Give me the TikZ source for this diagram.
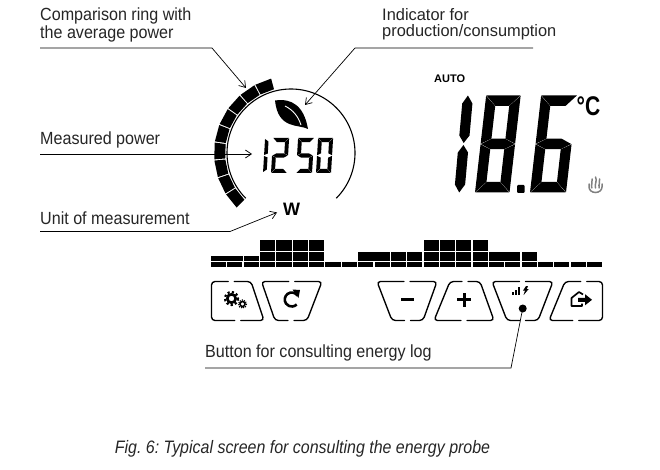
\documentclass[tikz,border=0pt]{standalone}
\usepackage{fontspec}
\setmainfont{Liberation Sans}
\usetikzlibrary{arrows.meta}
\tikzset{
  lbl/.style={inner sep=0pt,anchor=base west,font=\fontsize{17.6}{18}\selectfont\frenchspacing,text=black!85,xscale=.915},
  lead/.style={draw=black,line width=.7pt},
  arr/.style={lead,-{Straight Barb[length=6pt,width=8pt,line width=.7pt]}},
  btn/.style={draw=black,line width=1.35pt,rounded corners=3.5pt,line cap=round},
  seg/.style={fill=black,draw=none}
}
% segments in a local frame: #1 W, #2 H, #3 t
\newcommand{\sA}[3]{\fill[seg] (.3,#2) -- (#1-.3,#2) -- (#1-#3,#2-#3) -- (#3,#2-#3) -- cycle;}
\newcommand{\sD}[3]{\fill[seg] (.3,0) -- (#1-.3,0) -- (#1-#3,#3) -- (#3,#3) -- cycle;}
\newcommand{\sF}[3]{\fill[seg] (0,#2-.3) -- (#3-.25,#2-#3-.1) -- (#3-.25,#2/2+#3/2+.15) -- (0,#2/2+.3) -- cycle;}
\newcommand{\sB}[3]{\fill[seg] (#1,#2-.3) -- (#1-#3+.25,#2-#3-.1) -- (#1-#3+.25,#2/2+#3/2+.15) -- (#1,#2/2+.3) -- cycle;}
\newcommand{\sE}[3]{\fill[seg] (0,.3) -- (#3-.25,#3+.1) -- (#3-.25,#2/2-#3/2-.15) -- (0,#2/2-.3) -- cycle;}
\newcommand{\sC}[3]{\fill[seg] (#1,.3) -- (#1-#3+.25,#3+.1) -- (#1-#3+.25,#2/2-#3/2-.15) -- (#1,#2/2-.3) -- cycle;}
\newcommand{\sG}[3]{\fill[seg] (.4,#2/2) -- (#3,#2/2+#3/2) -- (#1-#3,#2/2+#3/2) -- (#1-.4,#2/2) -- (#1-#3,#2/2-#3/2) -- (#3,#2/2-#3/2) -- cycle;}
\newcommand{\dframe}[3]{\begin{scope}[shift={(#1,#2)},x=1pt,y=1pt,xslant=#3]}
\begin{document}
\begin{tikzpicture}[x=1pt,y=-1pt]
\useasboundingbox (0,0) rectangle (660,470);
\fill[white] (0,0) rectangle (660,470);
\coordinate (c) at (291,153);

% ring of 9 segments
\foreach \i in {0,...,8}{
  \pgfmathsetmacro{\a}{-104.5-13.45*\i-.45}
  \pgfmathsetmacro{\b}{-104.5-13.45*(\i+1)+.45}
  \fill[black] ([shift={(c)}]\a:66) -- ([shift={(c)}]\a:77) -- ([shift={(c)}]\b:77) -- ([shift={(c)}]\b:66) -- cycle;
}
% inner circle
\draw[line width=1.1pt] ([shift={(c)}]45:64) arc[start angle=45,end angle=-225,radius=64];

% leaf
\fill[black] (275,100.5) .. controls (292,98) and (304,106) .. (308,129)
  .. controls (299,124) and (278,130) .. (275,100.5) -- cycle;
\draw[white,line width=.9pt] (285,106) .. controls (293,110) and (298,116) .. (301,125);

% small digits
\dframe{262}{173}{.06}
 \fill[seg] (1,1) -- (4.6,3.5) -- (4.6,15.5) -- (1,17) -- cycle;
 \fill[seg] (1,18) -- (4.6,19.5) -- (4.6,31.5) -- (1,34) -- cycle;
\end{scope}
\dframe{271}{173}{.06}\sA{16}{35}{4.1}\sB{16}{35}{4.1}\sG{16}{35}{4.1}\sE{16}{35}{4.1}\sD{16}{35}{4.1}\end{scope}
\dframe{296}{173}{.06}\sA{16}{35}{4.1}\sF{16}{35}{4.1}\sG{16}{35}{4.1}\sC{16}{35}{4.1}\sD{16}{35}{4.1}\end{scope}
\dframe{316}{173}{.06}\sA{15}{35}{4.1}\sB{15}{35}{4.1}\sF{15}{35}{4.1}\sE{15}{35}{4.1}\sC{15}{35}{4.1}\sD{15}{35}{4.1}\end{scope}

\node[inner sep=0pt,font=\fontsize{18}{18}\selectfont\bfseries] (unit) at (291.5,209) {W};

% big digits
\node[inner sep=0pt,anchor=base west,font=\fontsize{11}{12}\selectfont\bfseries] (auto) at (434,83) {AUTO};
\dframe{454}{192.5}{.09}
 \fill[seg] (5.2,0) -- (.2,8) -- (.2,40) -- (5.2,47.5) -- (10.4,40) -- (10.4,8) -- cycle;
 \fill[seg] (5.2,49.5) -- (.2,57) -- (.2,89) -- (5.2,97) -- (10.4,89) -- (10.4,57) -- cycle;
\end{scope}
\dframe{475}{192.5}{.115}\sA{34.5}{97}{10.5}\sB{34.5}{97}{10.5}\sF{34.5}{97}{10.5}\sG{34.5}{97}{10.5}\sE{34.5}{97}{10.5}\sC{34.5}{97}{10.5}\sD{34.5}{97}{10.5}\end{scope}
\fill[black,rounded corners=1pt] (517,185) rectangle (524.5,193);
\dframe{530}{192.5}{.115}\sA{36}{97}{10.5}\sF{36}{97}{10.5}\sG{36}{97}{10.5}\sE{36}{97}{10.5}\sC{36}{97}{10.5}\sD{36}{97}{10.5}\end{scope}
\node[inner sep=0pt,anchor=base west,font=\fontsize{27}{27}\selectfont\bfseries,xscale=.78] (deg) at (576.5,115.5) {°C};

% flame icon
\begin{scope}[draw=black!50,line width=1.5pt,line cap=round]
 \draw (589,184) -- (589,187) arc[start angle=180,end angle=0,x radius=6.5,y radius=5.5] -- (602,184);
 \draw (591.8,188) .. controls (590.5,184) and (593.5,182) .. (592,179);
 \draw (595.5,188) .. controls (594.5,183) and (597.5,181) .. (595.5,177);
 \draw (599.2,188) .. controls (598,184) and (601,182) .. (599.5,179);
\end{scope}

% bar chart
\foreach \lv [count=\n from 0] in {1,1,1,3,3,3,3,0,0,2,2,2,2,3,3,3,3,2,2,2,0,0,0,0}{
  \pgfmathsetmacro{\xa}{211+16.35*\n}
  \pgfmathsetmacro{\xb}{\xa+15.1}
  \fill (\xa,262.4) rectangle (\xb,267);
  \ifnum\lv=1 \fill (\xa,256) rectangle (\xb,261.2); \fi
  \ifnum\lv>1 \fill (\xa,251.7) rectangle (\xb,261.2); \fi
  \ifnum\lv>2 \fill (\xa,240) rectangle (\xb,250.5); \fi
}
\fill (226,256) rectangle (243,261.2);
\fill (373,251.7) rectangle (375,261.2);
\fill (503,251.7) rectangle (506,261.2);

% buttons
\newcommand{\btnshape}[4]{%
 \pgfmathsetmacro{\mt}{(#1+#2)/2}\pgfmathsetmacro{\mb}{(#3+#4)/2}
 \draw[btn] (\mt-3,281.5) -- (#1,281.5) -- (#4,320.5) -- (\mb-3,320.5);
 \draw[btn] (\mt+3,281.5) -- (#2,281.5) -- (#3,320.5) -- (\mb+3,320.5);
}
\btnshape{211.5}{251}{264}{211.5}
\btnshape{261.5}{322}{307}{275}
\btnshape{377}{437}{423}{392}
\btnshape{450}{480}{494}{434}
\btnshape{492}{553}{538}{507}
\btnshape{565}{602.5}{602.5}{549}

% gears
\draw[line width=2.6pt] (231.5,298.5) circle[radius=4.2];
\draw[line width=2.2pt,dash pattern=on 2.2pt off 2.2pt] (231.5,298.5) circle[radius=6.5];
\draw[line width=1.6pt] (242.5,304) circle[radius=2.5];
\draw[line width=1.2pt,dash pattern=on 1.1pt off 1.1pt] (242.5,304) circle[radius=4];
% refresh
\draw[line width=2.6pt] (297.5,295.5) arc[start angle=-35,end angle=-315,radius=7];
\fill (292.5,289.5) -- (300,290) -- (298.5,298) -- cycle;
% minus, plus
\fill (400.5,298) rectangle (413.5,301);
\fill (457,298) rectangle (471,301);
\fill (462.5,292.5) rectangle (465.5,306.5);
% energy icon
\fill (512,292) rectangle (514.2,295.2);
\fill (515,290) rectangle (517.2,295.2);
\fill (518,287) rectangle (520.4,295.2);
\fill (523.5,295.2) -- (525,290.5) -- (523,290.5) -- (526,286) -- (528,286) -- (526.8,289) -- (528.7,289) -- cycle;
\node[circle,fill=black,inner sep=0pt,minimum size=8pt] (dot) at (522.7,308.5) {};
% exit
\draw[line width=1.7pt,line join=round] (583,294.5) -- (579,292) -- (571.5,298) -- (571.5,306) -- (582,306) -- (582,303.5);
\fill (578,297.8) -- (585,297.8) -- (585,294.2) -- (592,299.8) -- (585,305.3) -- (585,301.8) -- (578,301.8) -- cycle;

% labels
\node[lbl] (t1a) at (40,20.5) {Comparison ring with};
\node[lbl] (t1b) at (40,38.5) {the average power};
\node[lbl,font=\fontsize{16.6}{17}\selectfont\frenchspacing,xscale=1.08] (t2a) at (382,20.5) {Indicator for};
\node[lbl,font=\fontsize{16.6}{17}\selectfont\frenchspacing,xscale=1.08] (t2b) at (382,36.5) {production/consumption};
\node[lbl] (t3) at (40,145) {Measured power};
\node[lbl] (t4) at (40,224.5) {Unit of measurement};
\node[lbl] (t5) at (205,357.5) {Button for consulting energy log};
\node[lbl,anchor=base,font=\fontsize{18}{18}\selectfont\frenchspacing\itshape,xscale=.97] (cap) at (302.5,453.5) {Fig. 6: Typical screen for consulting the energy probe};

% connectors
\coordinate (l1a) at (40,48); \coordinate (l1b) at (212,48); \coordinate (l1c) at (246,88);
\coordinate (l2a) at (533,48); \coordinate (l2b) at (355,48); \coordinate (l2c) at (305,105);
\coordinate (l3a) at (40,154); \coordinate (l3b) at (252,154);
\coordinate (l4a) at (40,231.5); \coordinate (l4b) at (230,231.5); \coordinate (l4c) at (277,212.5);
\coordinate (l5a) at (205,368); \coordinate (l5b) at (511,368);
\draw[arr] (l1a) -- (l1b) -- (l1c);
\draw[arr] (l2a) -- (l2b) -- (l2c);
\draw[arr] (l3a) -- (l3b);
\draw[arr] (l4a) -- (l4b) -- (l4c);
\draw[lead] (l5a) -- (l5b) -- (dot.center);
\end{tikzpicture}
\end{document}
